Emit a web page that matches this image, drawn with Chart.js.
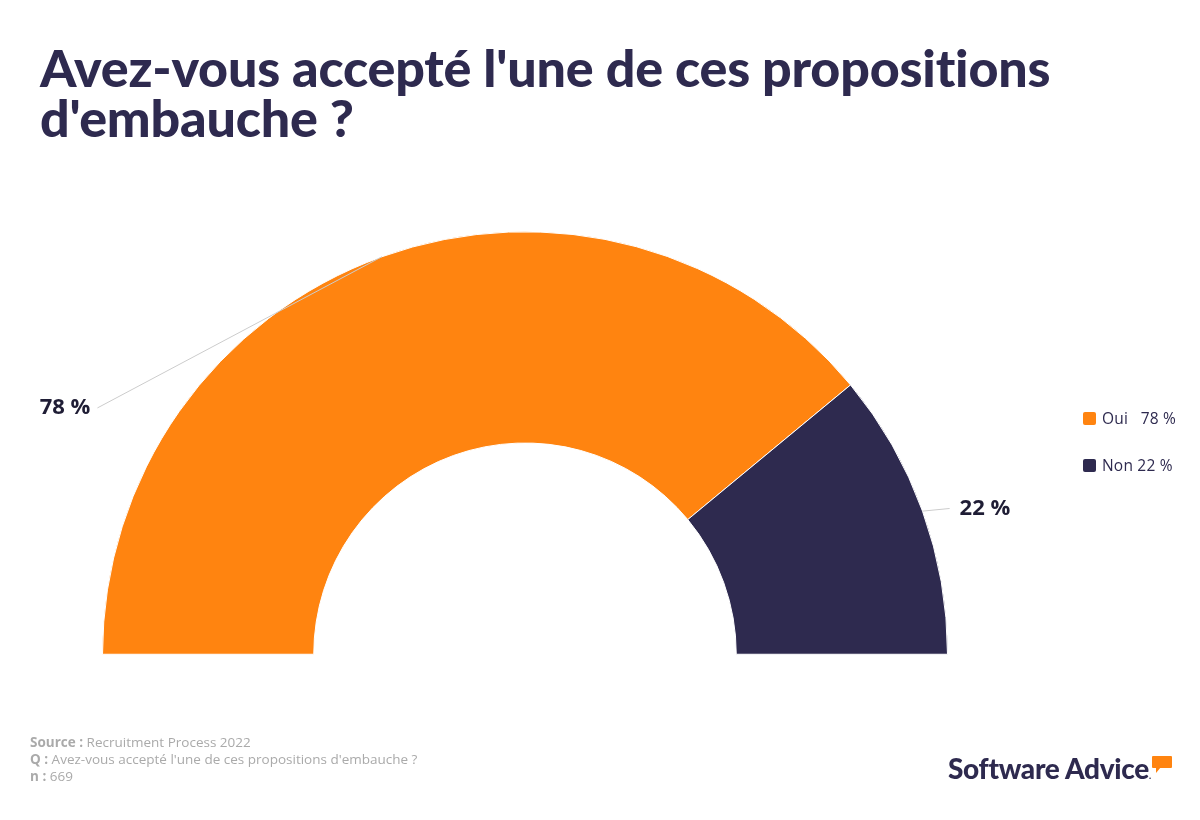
<!DOCTYPE html>
<html lang="fr">
<head>
<meta charset="utf-8">
<script src="https://cdn.jsdelivr.net/npm/chart.js@4.4.1/dist/chart.umd.min.js"></script>
<style>
  html, body { margin:0; padding:0; background:#fff; }
  body { width:1200px; height:820px; position:relative; overflow:hidden; font-family: Lato, "Open Sans", sans-serif; }
  #title { position:absolute; left:40px; top:42px; margin:0; font-family: Lato, sans-serif; font-weight:900; font-size:52px; line-height:50px; color:#2E2A4F; letter-spacing:-0.2px; width:1100px; }
  #wrap { position:absolute; left:0; top:0; width:1200px; height:820px; }
  #legend { position:absolute; left:1083px; top:408px; font-family: "Open Sans", Lato, sans-serif; font-size:15.5px; letter-spacing:0.2px; color:#2E2A4F; }
  .li { display:flex; align-items:center; height:20px; margin-bottom:27px; white-space:pre; }
  .sw { width:13px; height:13px; border-radius:2px; margin-right:6px; }
  #foot { position:absolute; left:30px; top:734px; font-size:13.5px; line-height:17px; color:#aaaaaa; font-family: "Open Sans", sans-serif; }
  #foot b { font-weight:700; }
  #logo { position:absolute; left:948px; top:751px; font-family: Lato, sans-serif; font-weight:900; font-size:28px; color:#2E2A4F; letter-spacing:-0.3px; }
  #bubble { position:absolute; left:1152px; top:756px; width:20px; height:12px; background:#FF8410; border-radius:1px; }
  #tail { position:absolute; left:1156px; top:767px; width:0; height:0; border-left:5px solid #FF8410; border-bottom:6px solid transparent; }
</style>
</head>
<body>
<h1 id="title">Avez-vous accepté l'une de ces propositions d'embauche ?</h1>
<div id="wrap"><canvas id="c"></canvas></div>
<div id="legend"></div>
<div id="foot"><b>Source :</b> Recruitment Process 2022<br><b>Q :</b> Avez-vous accepté l'une de ces propositions d'embauche ?<br><b>n :</b> 669</div>
<div id="logo">Software Advice<span style="font-size:9px;">.</span></div>
<div id="bubble"></div><div id="tail"></div>
<script>
const categories = ["Oui", "Non"];
const values = [78, 22];
const valueLabels = ["78 %", "22 %"];
const colors = ["#FF8410", "#2E2A4F"];

// legend
const legendEl = document.getElementById('legend');
categories.forEach((c, i) => {
  const d = document.createElement('div');
  d.className = 'li';
  d.innerHTML = '<span class="sw" style="background:' + colors[i] + '"></span>' + c + (c === 'Oui' ? '   ' : ' ') + valueLabels[i];
  legendEl.appendChild(d);
});

// label anchor offsets (in units of outer radius, relative to center)
const labelAnchors = [{dx:-1.012, dy:-0.583, align:'right'}, {dx:1.005, dy:-0.345, align:'left'}];

const labelPlugin = {
  id: 'sliceLabels',
  afterDatasetsDraw(chart) {
    const ctx = chart.ctx;
    const meta = chart.getDatasetMeta(0);
    meta.data.forEach((arc, i) => {
      const p = arc.getProps(['x','y','startAngle','endAngle','outerRadius'], true);
      const mid = (p.startAngle + p.endAngle) / 2;
      const sx = p.x + Math.cos(mid) * p.outerRadius;
      const sy = p.y + Math.sin(mid) * p.outerRadius;
      const a = labelAnchors[i];
      const ex = p.x + a.dx * p.outerRadius;
      const ey = p.y + a.dy * p.outerRadius;
      ctx.save();
      ctx.strokeStyle = '#cccccc';
      ctx.lineWidth = 1;
      ctx.beginPath();
      ctx.moveTo(sx, sy);
      ctx.lineTo(ex, ey);
      ctx.stroke();
      ctx.fillStyle = '#1f1d35';
      ctx.font = '700 22px "Open Sans", sans-serif';
      ctx.textBaseline = 'middle';
      ctx.textAlign = a.align;
      ctx.fillText(valueLabels[i], a.align === 'right' ? ex - 7 : ex + 10, ey);
      ctx.restore();
    });
  }
};

new Chart(document.getElementById('c'), {
  type: 'doughnut',
  data: {
    labels: categories,
    datasets: [{
      data: values,
      backgroundColor: colors,
      borderColor: '#ffffff',
      borderWidth: 1,
      hoverOffset: 0
    }]
  },
  options: {
    responsive: true,
    maintainAspectRatio: false,
    animation: false,
    rotation: -90,
    circumference: 180,
    cutout: '50%',
    layout: { padding: { left: 102, right: 252, top: 231, bottom: 165 } },
    plugins: { legend: { display: false }, tooltip: { enabled: false } }
  },
  plugins: [labelPlugin]
});
</script>
</body>
</html>
